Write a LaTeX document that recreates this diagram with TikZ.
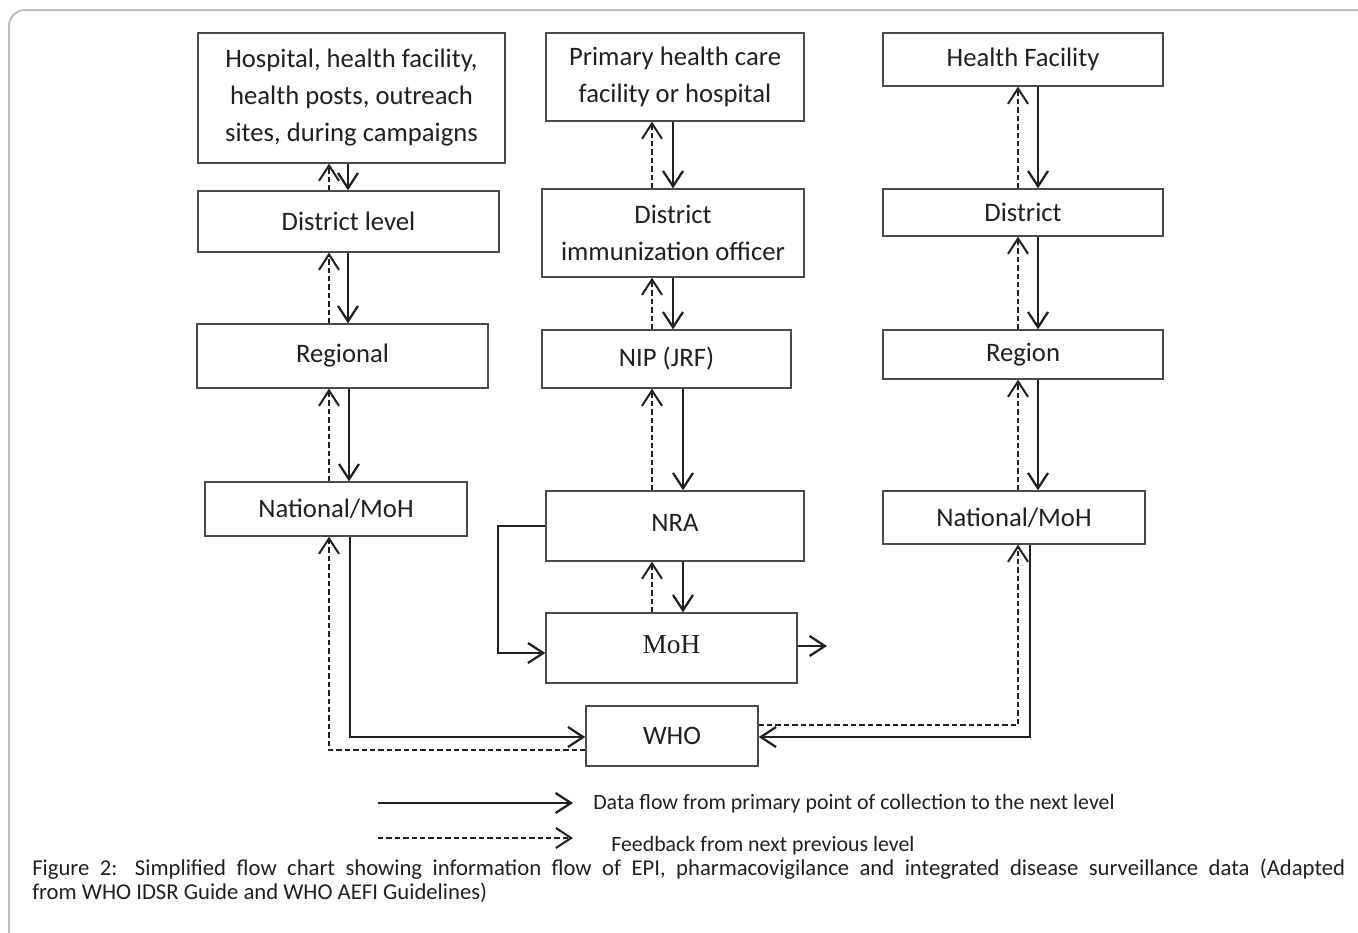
\documentclass[tikz,border=0pt]{standalone}
\usepackage{fontspec}
\setmainfont{Carlito}
\newfontfamily\timesf{Liberation Serif}
\usetikzlibrary{arrows.meta}
\definecolor{ink}{HTML}{231F20}
\definecolor{boxline}{HTML}{4A4A4A}
\definecolor{framec}{HTML}{BDBDBD}
\begin{document}
\begin{tikzpicture}[x=0.75pt,y=-0.75pt,
  box/.style={draw=boxline, line width=1pt, fill=white, inner sep=0pt, align=center,
    text=ink, font=\fontsize{20}{27.75}\selectfont},
  sz/.style 2 args={minimum width=#1*0.75pt, minimum height=#2*0.75pt},
  data/.style={draw=ink, line width=1.7pt, -{Straight Barb[length=11.5pt,width=15pt]}},
  fb/.style={draw=ink, line width=1.5pt, dash pattern=on 4pt off 2.3pt, -{Straight Barb[length=11.5pt,width=15pt]}},
  legtext/.style={anchor=base west, text=ink, inner sep=0pt, font=\fontsize{16.4}{20}\selectfont},
  captext/.style={anchor=base west, text=ink, inner sep=0pt, font=\fontsize{17}{24}\selectfont}]
\useasboundingbox (0,0) rectangle (1358,932);
% frame
\draw[framec, line width=1.5pt, rounded corners=12pt] (9,980) -- (9,10) -- (1400,10);

% left column
\node[box, sz={307}{130}] (hosp) at (351.5,98) {Hospital, health facility,\\health posts, outreach\\sites, during campaigns};
\node[box, sz={301}{61}] (dist1) at (348.5,221.5) {District level};
\node[box, sz={291}{64}] (reg1) at (342.5,356) {\raisebox{2.5pt}{Regional}};
\node[box, sz={262}{54}] (nat1) at (336,509) {National/MoH};

% middle column
\node[box, sz={258}{88}] (prim) at (675,77) {Primary health care\\facility or hospital};
\node[box, sz={262}{88}] (dio) at (673,233) {District\\immunization officer};
\node[box, sz={249}{58}] (nip) at (666.5,359) {NIP (JRF)};
\node[box, sz={258}{70}] (nra) at (675,526) {\raisebox{4.5pt}{NRA}};
\node[box, sz={251}{70}, font=\timesf\fontsize{20.5}{24}\selectfont] (moh) at (671.5,648) {\raisebox{4.5pt}{MoH}};
\node[box, sz={172}{60}] (who) at (672,736) {WHO};

% right column
\node[box, sz={280}{53}] (hf) at (1023,59.5) {Health Facility};
\node[box, sz={280}{47}] (dist3) at (1023,212.5) {District};
\node[box, sz={280}{49}] (reg3) at (1023,354.5) {Region};
\node[box, sz={262}{53}] (nat3) at (1014,517.5) {National/MoH};

% left arrows
\draw[data] (hosp.south -| 348,0) -- (dist1.north -| 348,0);
\draw[fb] (dist1.north -| 329,0) -- (hosp.south -| 329,0);
\draw[data] (dist1.south -| 348,0) -- (reg1.north -| 348,0);
\draw[fb] (reg1.north -| 329,0) -- (dist1.south -| 329,0);
\draw[data] (reg1.south -| 349,0) -- (nat1.north -| 349,0);
\draw[fb] (nat1.north -| 329,0) -- (reg1.south -| 329,0);
\draw[data] (nat1.south -| 350,0) |- (who.west |- 0,737);
\draw[fb] (who.west |- 0,750) -| (nat1.south -| 329,0);

% middle arrows
\draw[data] (prim.south -| 673,0) -- (dio.north -| 673,0);
\draw[fb] (dio.north -| 652,0) -- (prim.south -| 652,0);
\draw[data] (dio.south -| 673,0) -- (nip.north -| 673,0);
\draw[fb] (nip.north -| 652,0) -- (dio.south -| 652,0);
\draw[data] (nip.south -| 683,0) -- (nra.north -| 683,0);
\draw[fb] (nra.north -| 652,0) -- (nip.south -| 652,0);
\draw[data] (nra.south -| 683,0) -- (moh.north -| 683,0);
\draw[fb] (moh.north -| 652,0) -- (nra.south -| 652,0);
\coordinate (nrabend) at (498,526);
\draw[data] (nra.west) -- (nrabend) |- (moh.west |- 0,653);
\coordinate (mohout) at (827,646);
\draw[data] (moh.east |- mohout) -- (mohout);

% right arrows
\draw[data] (hf.south -| 1038,0) -- (dist3.north -| 1038,0);
\draw[fb] (dist3.north -| 1018,0) -- (hf.south -| 1018,0);
\draw[data] (dist3.south -| 1038,0) -- (reg3.north -| 1038,0);
\draw[fb] (reg3.north -| 1018,0) -- (dist3.south -| 1018,0);
\draw[data] (reg3.south -| 1038,0) -- (nat3.north -| 1038,0);
\draw[fb] (nat3.north -| 1018,0) -- (reg3.south -| 1018,0);
\draw[data] (nat3.south -| 1030,0) |- (who.east |- 0,737);
\draw[fb] (who.east |- 0,725) -| (nat3.south -| 1018,0);

% legend
\coordinate (l1a) at (378,803);
\coordinate (l1b) at (573,803);
\coordinate (l2a) at (378,838);
\coordinate (l2b) at (573,838);
\draw[data] (l1a) -- (l1b);
\draw[fb] (l2a) -- (l2b);
\node[legtext] (leg1) at (593,809) {Data flow from primary point of collection to the next level};
\node[legtext] (leg2) at (611,851) {Feedback from next previous level};

% caption
\node[captext] (cap1) at (32,875) {\makebox[984.75pt][s]{Figure 2: Simplified flow chart showing information flow of EPI, pharmacovigilance and integrated disease surveillance data (Adapted}};
\node[captext] (cap2) at (32,899) {from WHO IDSR Guide and WHO AEFI Guidelines)};
\end{tikzpicture}
\end{document}
